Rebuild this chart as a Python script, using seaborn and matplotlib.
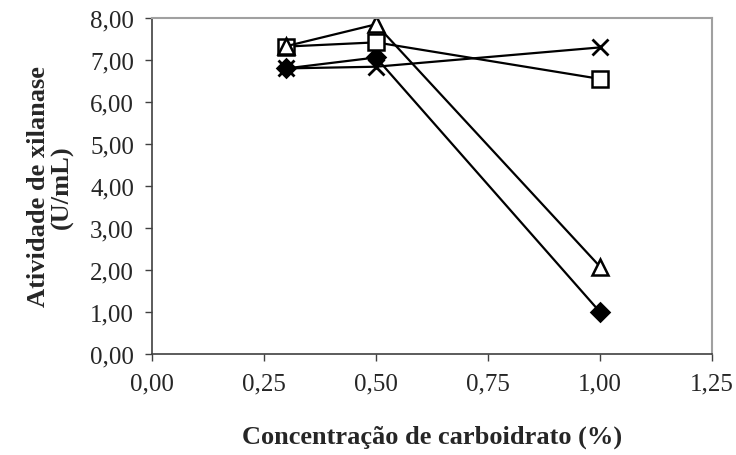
import matplotlib
matplotlib.use("Agg")
import matplotlib.pyplot as plt
import seaborn as sns
import pandas as pd
from matplotlib.ticker import FuncFormatter, MultipleLocator

concentracao = [0.30, 0.50, 1.00]
serie_diamante = [6.80, 7.06, 1.00]
serie_quadrado = [7.32, 7.42, 6.55]
serie_triangulo = [7.33, 7.85, 2.08]
serie_x = [6.80, 6.84, 7.30]

sns.set_style("white")
plt.rcParams["font.family"] = ["Liberation Serif", "DejaVu Serif"]

fig = plt.figure(figsize=(7.36, 4.56), dpi=100)
ax = fig.add_axes([152/736, 1-355/456, (712-152)/736, (355-19)/456])

styles = [
    (serie_diamante, dict(marker="D", markersize=9, markerfacecolor="black")),
    (serie_quadrado, dict(marker="s", markersize=11, markerfacecolor="white")),
    (serie_triangulo, dict(marker="^", markersize=12, markerfacecolor="white")),
    (serie_x, dict(marker="x", markersize=12, markeredgewidth=2)),
]
for vals, kw in styles:
    df = pd.DataFrame({"x": concentracao, "y": vals})
    sns.lineplot(data=df, x="x", y="y", ax=ax, color="black", linewidth=1.6,
                 markeredgecolor="black", markeredgewidth=kw.pop("markeredgewidth", 1.8),
                 **kw)

ax.set_xlim(0, 1.25)
ax.set_ylim(0, 8)
ax.xaxis.set_major_locator(MultipleLocator(0.25))
ax.yaxis.set_major_locator(MultipleLocator(1))
fmt = FuncFormatter(lambda v, p: f"{v:.2f}".replace(".", ","))
ax.xaxis.set_major_formatter(fmt)
ax.yaxis.set_major_formatter(fmt)
ax.tick_params(axis="both", direction="out", length=5, width=1, color="#404040",
               labelsize=18, bottom=True, left=True)
ax.tick_params(axis="x", pad=8)
ax.tick_params(axis="y", pad=8)
for s in ["top", "right"]:
    ax.spines[s].set_color("#a0a0a0")
    ax.spines[s].set_linewidth(1.5)
for s in ["left", "bottom"]:
    ax.spines[s].set_color("#404040")
    ax.spines[s].set_linewidth(1.2)

ax.set_xlabel("Concentração de carboidrato (%)", fontsize=19, fontweight="bold", labelpad=22)
ax.set_ylabel("Atividade de xilanase\n(U/mL)", fontsize=19, fontweight="bold", labelpad=12,
              linespacing=1.0)

fig.savefig("out.png", dpi=100, facecolor="white")
